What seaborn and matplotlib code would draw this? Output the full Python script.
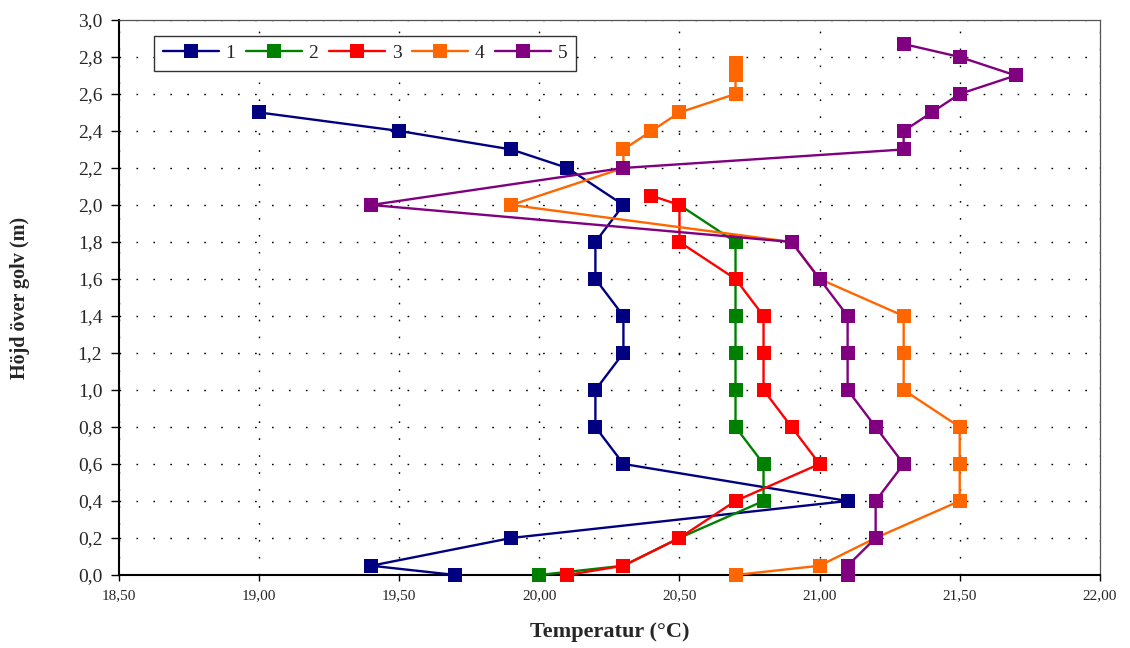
import matplotlib
matplotlib.use("Agg")
import matplotlib.pyplot as plt
import pandas as pd
import seaborn as sns

# Temperature profiles (°C) at measured heights above the floor (m)
height_1 = [0.0, 0.05, 0.2, 0.4, 0.6, 0.8, 1.0, 1.2, 1.4, 1.6, 1.8, 2.0, 2.2, 2.3, 2.4, 2.5]
temp_1 = [19.7, 19.4, 19.9, 21.1, 20.3, 20.2, 20.2, 20.3, 20.3, 20.2, 20.2, 20.3, 20.1, 19.9, 19.5, 19.0]

height_2 = [0.0, 0.05, 0.2, 0.4, 0.6, 0.8, 1.0, 1.2, 1.4, 1.6, 1.8, 2.0]
temp_2 = [20.0, 20.3, 20.5, 20.8, 20.8, 20.7, 20.7, 20.7, 20.7, 20.7, 20.7, 20.5]

height_3 = [0.0, 0.05, 0.2, 0.4, 0.6, 0.8, 1.0, 1.2, 1.4, 1.6, 1.8, 2.0, 2.05]
temp_3 = [20.1, 20.3, 20.5, 20.7, 21.0, 20.9, 20.8, 20.8, 20.8, 20.7, 20.5, 20.5, 20.4]

height_4 = [0.0, 0.05, 0.2, 0.4, 0.6, 0.8, 1.0, 1.2, 1.4, 1.6, 1.8, 2.0, 2.2, 2.3, 2.4, 2.5, 2.6, 2.7, 2.77]
temp_4 = [20.7, 21.0, 21.2, 21.5, 21.5, 21.5, 21.3, 21.3, 21.3, 21.0, 20.9, 19.9, 20.3, 20.3, 20.4, 20.5, 20.7, 20.7, 20.7]

height_5 = [0.0, 0.05, 0.2, 0.4, 0.6, 0.8, 1.0, 1.2, 1.4, 1.6, 1.8, 2.0, 2.2, 2.3, 2.4, 2.5, 2.6, 2.7, 2.8, 2.87]
temp_5 = [21.1, 21.1, 21.2, 21.2, 21.3, 21.2, 21.1, 21.1, 21.1, 21.0, 20.9, 19.4, 20.3, 21.3, 21.3, 21.4, 21.5, 21.7, 21.5, 21.3]

series_names = ["1", "2", "3", "4", "5"]
series_colors = ["#000080", "#008000", "#FF0000", "#FF6600", "#800080"]

x_tick_values = [18.5, 19.0, 19.5, 20.0, 20.5, 21.0, 21.5, 22.0]
x_tick_labels = ["18,50", "19,00", "19,50", "20,00", "20,50", "21,00", "21,50", "22,00"]
y_tick_values = [0.0, 0.2, 0.4, 0.6, 0.8, 1.0, 1.2, 1.4, 1.6, 1.8, 2.0, 2.2, 2.4, 2.6, 2.8, 3.0]
y_tick_labels = ["0,0", "0,2", "0,4", "0,6", "0,8", "1,0", "1,2", "1,4", "1,6", "1,8",
                 "2,0", "2,2", "2,4", "2,6", "2,8", "3,0"]

x_label = "Temperatur (°C)"
y_label = "Höjd över golv (m)"

# Long-form table: one row per measurement, keeping the measurement order
frames = []
for name, h, t in zip(series_names,
                      [height_1, height_2, height_3, height_4, height_5],
                      [temp_1, temp_2, temp_3, temp_4, temp_5]):
    frames.append(pd.DataFrame({"serie": name, "hojd": h, "temp": t}))
df = pd.concat(frames, ignore_index=True)

sns.set_style("white")
plt.rcParams["font.family"] = ["Liberation Serif", "DejaVu Serif"]

fig = plt.figure(figsize=(11.3, 6.48), dpi=100)
ax = fig.add_axes([0.1053, 0.1127, 0.868, 0.8565])

sns.lineplot(data=df, x="temp", y="hojd", hue="serie", hue_order=series_names,
             palette=dict(zip(series_names, series_colors)), sort=False,
             estimator=None, units="serie", legend=False, ax=ax,
             marker="s", markersize=10, markeredgewidth=0, linewidth=1.7,
             clip_on=False, zorder=3)

ax.set_xlim(18.5, 22.0)
ax.set_ylim(0.0, 3.0)
ax.set_xticks(x_tick_values)
ax.set_xticklabels(x_tick_labels)
ax.set_yticks(y_tick_values)
ax.set_yticklabels(y_tick_labels)

ax.grid(True, color="black", linestyle=(0, (1.2, 11.0)), linewidth=1.0)
ax.set_axisbelow(True)

for side in ("left", "bottom"):
    ax.spines[side].set_color("black")
    ax.spines[side].set_linewidth(1.5)
for side in ("top", "right"):
    ax.spines[side].set_visible(True)
    ax.spines[side].set_color("#555555")
    ax.spines[side].set_linewidth(0.9)

ax.tick_params(axis="x", direction="out", length=4, width=1, color="black",
               labelsize=11, pad=6, bottom=True)
ax.tick_params(axis="y", direction="out", length=6, width=1, color="black",
               labelsize=14, pad=6, left=True)

ax.set_xlabel(x_label, fontsize=16, fontweight="bold")
ax.set_ylabel(y_label, fontsize=14.5, fontweight="bold")
ax.xaxis.set_label_coords(0.5, -0.085)
ax.xaxis.label.set_va("top")
ax.yaxis.set_label_coords(-0.101, 0.5)
ax.yaxis.label.set_va("center")

leg = ax.legend(ax.lines[:len(series_names)], series_names, ncol=5,
                loc="upper left", bbox_to_anchor=(0.0357, 0.9717), borderaxespad=0,
                fontsize=14, handlelength=2.87, handletextpad=0.35,
                columnspacing=0.55, borderpad=0.45, fancybox=False,
                framealpha=1, edgecolor="#333333")
leg.get_frame().set_linewidth(1.0)

fig.savefig("out.png", dpi=100, facecolor="white")
